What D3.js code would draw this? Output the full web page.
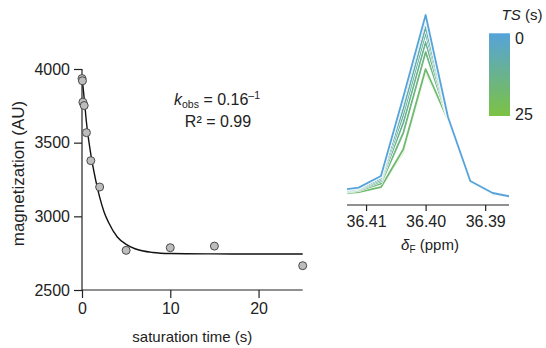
<!DOCTYPE html>
<html>
<head>
<meta charset="utf-8">
<script src="https://cdn.jsdelivr.net/npm/d3@7"></script>
<style>
  html, body { margin: 0; padding: 0; background: #fff; }
  svg { display: block; font-family: "Liberation Sans", Arial, sans-serif; }
</style>
</head>
<body>
<svg id="chart" width="546" height="348"></svg>
<script>
// ---- Left panel data: magnetization vs saturation time ----
const satTime = [0, 0.05, 0.1, 0.25, 0.5, 1, 2, 5, 10, 15, 25];
const magnetization = [3935, 3920, 3775, 3752, 3568, 3378, 3199, 2769, 2787, 2798, 2665];
// fitted curve
const fitTime = [0, 0.25, 0.5, 1, 1.5, 2, 2.5, 3, 4, 5, 6, 8, 10, 15, 20, 25];
const fitValue = [3950, 3800, 3640, 3420, 3260, 3130, 3030, 2960, 2860, 2810, 2780, 2755, 2748, 2745, 2744, 2744];
const xTicksLeft = [0, 10, 20];
const yTicksLeft = [2500, 3000, 3500, 4000];

// ---- Right panel data: 19F spectra ----
const ppm = [36.415, 36.41125, 36.4075, 36.40375, 36.400, 36.39625, 36.3925, 36.38875, 36.385];
const spectraTS = [0, 0.05, 0.1, 0.25, 0.5, 1, 2, 5, 10, 15, 25];
const spec0    = [7.2, 8.7, 14.5, 54.0, 95.0, 44.0, 12.0, 6.0, 3.8];
const spec005  = [7.1, 8.6, 14.3, 53.2, 94.2, 44.0, 12.0, 6.0, 3.8];
const spec01   = [7.0, 8.5, 14.1, 52.1, 93.0, 43.9, 11.9, 5.9, 3.7];
const spec025  = [6.8, 8.2, 13.3, 48.2, 89.0, 43.7, 11.9, 5.9, 3.7];
const spec05   = [6.6, 7.9, 12.6, 45.2, 86.0, 43.5, 11.8, 5.8, 3.7];
const spec1    = [6.3, 7.6, 11.8, 41.1, 81.5, 43.3, 11.8, 5.8, 3.6];
const spec2    = [5.9, 7.2, 10.7, 36.1, 76.5, 43.0, 11.7, 5.7, 3.6];
const spec5    = [5.4, 6.5, 8.9, 27.9, 68.0, 42.6, 11.5, 5.5, 3.5];
const spec10   = [5.3, 6.4, 8.9, 27.5, 67.5, 42.6, 11.5, 5.5, 3.5];
const spec15   = [5.3, 6.4, 8.8, 27.2, 67.2, 42.5, 11.5, 5.5, 3.5];
const spec25   = [5.3, 6.4, 8.7, 26.5, 66.5, 42.5, 11.5, 5.5, 3.5];
const spectra = [spec0, spec005, spec01, spec025, spec05, spec1, spec2, spec5, spec10, spec15, spec25];
const ppmTicks = [36.41, 36.40, 36.39];
const tsLabels = ["0", "25"];

const svg = d3.select("#chart");
const colA = "#56a3da", colB = "#7cc243";
const colorOf = d3.interpolateRgb(colA, colB);

// ================= LEFT PANEL =================
const xL = d3.scaleLinear().domain([0, 25]).range([82, 302.7]);
const yL = d3.scaleLinear().domain([2500, 4000]).range([290, 69]);

const gL = svg.append("g");
const yAxisL = gL.append("g").attr("transform", `translate(${xL(0)},0)`)
  .call(d3.axisLeft(yL).tickValues(yTicksLeft).tickSize(8).tickPadding(4).tickFormat(d3.format("d")));
const xAxisL = gL.append("g").attr("transform", `translate(0,${yL(2500)})`)
  .call(d3.axisBottom(xL).tickValues(xTicksLeft).tickSize(8).tickPadding(5).tickFormat(d3.format("d")));
[yAxisL, xAxisL].forEach(a => {
  a.select(".domain").attr("stroke", "#222").attr("stroke-width", 1.2);
  a.selectAll(".tick line").attr("stroke", "#222").attr("stroke-width", 1.2);
  a.selectAll(".tick text").attr("font-size", 16).attr("fill", "#222")
    .attr("font-family", "Liberation Sans, Arial, sans-serif");
});
yAxisL.select(".domain").attr("d", `M0,${yL(4000)}V${yL(2500)}`);
xAxisL.select(".domain").attr("d", `M${xL(0)},0H${xL(25)}`);

gL.append("text").attr("x", (xL(0) + xL(25)) / 2).attr("y", 342)
  .attr("text-anchor", "middle").attr("font-size", 15).attr("fill", "#222")
  .text("saturation time (s)");
gL.append("text").attr("transform", `translate(24,173.5) rotate(-90)`)
  .attr("text-anchor", "middle").attr("font-size", 17).attr("fill", "#222")
  .text("magnetization (AU)");

// fit curve
const fitLine = d3.line().x((d, i) => xL(fitTime[i])).y(d => yL(d)).curve(d3.curveMonotoneX);
gL.append("path").datum(fitValue).attr("d", fitLine)
  .attr("fill", "none").attr("stroke", "#111").attr("stroke-width", 1.4);

// points
gL.selectAll("circle.pt").data(magnetization).join("circle").attr("class", "pt")
  .attr("cx", (d, i) => xL(satTime[i])).attr("cy", d => yL(d)).attr("r", 4)
  .attr("fill", "#bdbdbd").attr("stroke", "#4a4a4a").attr("stroke-width", 1);

// annotation
const ann1 = gL.append("text").attr("x", 217).attr("y", 105).attr("text-anchor", "middle")
  .attr("font-size", 16).attr("fill", "#222");
ann1.append("tspan").attr("font-style", "italic").text("k");
ann1.append("tspan").attr("font-size", 10.5).attr("dy", 3).text("obs");
ann1.append("tspan").attr("dy", -3).text(" = 0.16");
ann1.append("tspan").attr("font-size", 10.5).attr("dy", -6).text("\u20131");
gL.append("text").attr("x", 218).attr("y", 127).attr("text-anchor", "middle")
  .attr("font-size", 16).attr("fill", "#222").text("R\u00B2 = 0.99");

// ================= RIGHT PANEL =================
const xR = d3.scaleLinear().domain([36.4132, 36.3860]).range([347, 509]);
const yR = d3.scaleLinear().domain([0, 100]).range([205, 5]);

svg.append("defs").append("clipPath").attr("id", "clipR")
  .append("rect").attr("x", xR(36.4132)).attr("y", 0).attr("width", xR(36.3860) - xR(36.4132)).attr("height", 205);

const gR = svg.append("g");
const specLine = d3.line().x((d, i) => xR(ppm[i])).y(d => yR(d));
const gLines = gR.append("g").attr("clip-path", "url(#clipR)");
const order = d3.range(spectra.length).reverse();
order.forEach(i => {
  gLines.append("path").datum(spectra[i]).attr("d", specLine)
    .attr("fill", "none").attr("stroke", "#fff").attr("stroke-width", 3)
    .attr("stroke-linejoin", "round");
  gLines.append("path").datum(spectra[i]).attr("d", specLine)
    .attr("fill", "none").attr("stroke", colorOf(i / (spectra.length - 1)))
    .attr("stroke-width", 1.8).attr("stroke-linejoin", "round");
});

const xAxisR = gR.append("g").attr("transform", `translate(0,${yR(0)})`)
  .call(d3.axisBottom(xR).tickValues(ppmTicks).tickSize(6).tickPadding(5).tickFormat(d3.format(".2f")));
xAxisR.select(".domain").attr("stroke", "#222").attr("stroke-width", 1.2)
  .attr("d", `M${xR(36.4132)},0H${xR(36.3860)}`);
xAxisR.selectAll(".tick line").attr("stroke", "#222").attr("stroke-width", 1.2);
xAxisR.selectAll(".tick text").attr("font-size", 16).attr("fill", "#222")
  .attr("font-family", "Liberation Sans, Arial, sans-serif");

const xlabR = gR.append("text").attr("x", 430).attr("y", 250).attr("text-anchor", "middle")
  .attr("font-size", 15).attr("fill", "#222");
xlabR.append("tspan").attr("font-style", "italic").text("\u03B4");
xlabR.append("tspan").attr("font-size", 10).attr("dy", 3).text("F");
xlabR.append("tspan").attr("dy", -3).text(" (ppm)");

// colour bar
const grad = svg.select("defs").append("linearGradient").attr("id", "tsGrad")
  .attr("x1", 0).attr("y1", 0).attr("x2", 0).attr("y2", 1);
grad.append("stop").attr("offset", "0%").attr("stop-color", colA);
grad.append("stop").attr("offset", "100%").attr("stop-color", colB);
const tsScale = d3.scaleLinear().domain([0, 25]).range([33.3, 116]);
svg.append("rect").attr("x", 489).attr("y", tsScale(0)).attr("width", 21)
  .attr("height", tsScale(25) - tsScale(0)).attr("fill", "url(#tsGrad)");
svg.selectAll("text.tsl").data(tsLabels).join("text").attr("class", "tsl")
  .attr("x", 515).attr("y", d => tsScale(+d) + (+d === 0 ? 11 : 4))
  .attr("font-size", 16).attr("fill", "#222").text(d => d);
const tsTitle = svg.append("text").attr("x", 522).attr("y", 20).attr("text-anchor", "middle")
  .attr("font-size", 15).attr("fill", "#222");
tsTitle.append("tspan").attr("font-style", "italic").text("TS");
tsTitle.append("tspan").text(" (s)");
</script>
</body>
</html>
